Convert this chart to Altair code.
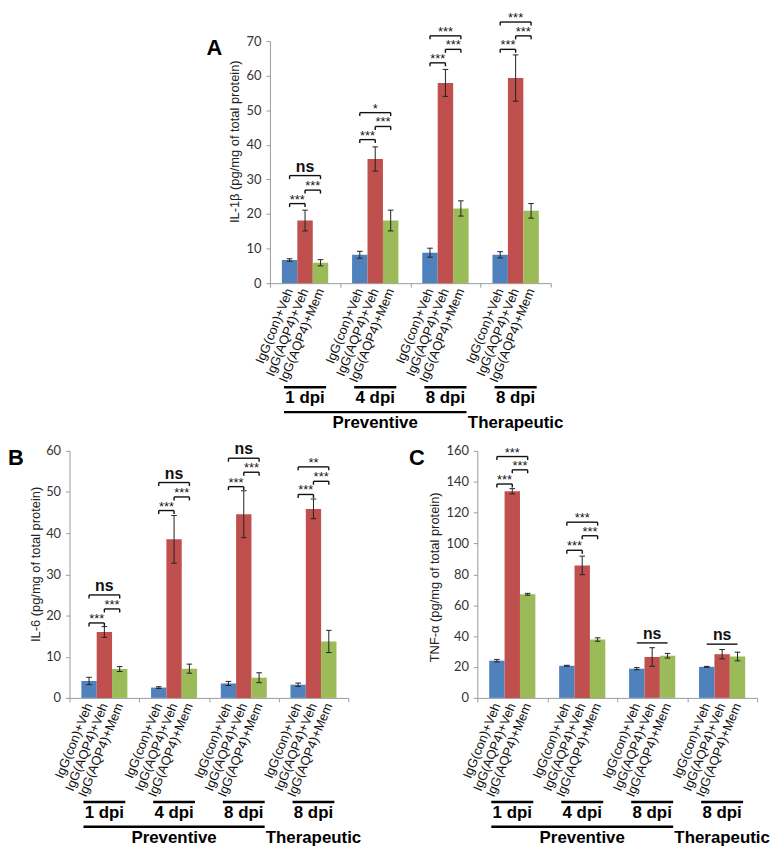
import altair as alt
import pandas as pd

FONT = "Liberation Sans"
AX = "#9a9a9a"

groups = ["1 dpi", "4 dpi", "8 dpi", "8 dpi"]
phases = ["Preventive", "Preventive", "Preventive", "Therapeutic"]
treatments = ["IgG(con)+Veh", "IgG(AQP4)+Veh", "IgG(AQP4)+Mem"]
bar_colors = ["#4F81BD", "#C0504D", "#9BBB59"]

# Panel A: IL-1beta
il1b_con = [6.7, 8.2, 8.8, 8.2]
il1b_aqp4 = [18.1, 35.9, 57.9, 59.3]
il1b_mem = [5.9, 18.1, 21.6, 20.9]
il1b_con_err = [0.35, 1.0, 1.3, 0.9]
il1b_aqp4_err = [3.0, 3.5, 3.9, 6.7]
il1b_mem_err = [0.9, 3.0, 2.2, 2.1]
# (group, from treatment, to treatment, level, label, legs)
il1b_sig = [
    (0, 0, 1, 23.0, "***", True), (0, 1, 2, 26.9, "***", True), (0, 0, 2, 31.1, "ns", True),
    (1, 0, 1, 41.5, "***", True), (1, 1, 2, 45.3, "***", True), (1, 0, 2, 49.3, "*", True),
    (2, 0, 1, 63.7, "***", True), (2, 1, 2, 67.6, "***", True), (2, 0, 2, 71.5, "***", True),
    (3, 0, 1, 67.6, "***", True), (3, 1, 2, 71.5, "***", True), (3, 0, 2, 75.5, "***", True),
]

# Panel B: IL-6
il6_con = [4.1, 2.5, 3.5, 3.2]
il6_aqp4 = [16.0, 38.5, 44.6, 45.9]
il6_mem = [7.0, 7.1, 4.9, 13.7]
il6_con_err = [0.9, 0.2, 0.5, 0.4]
il6_aqp4_err = [1.3, 5.8, 5.7, 2.4]
il6_mem_err = [0.6, 1.1, 1.2, 2.7]
il6_sig = [
    (0, 0, 1, 18.2, "***", True), (0, 1, 2, 21.6, "***", True), (0, 0, 2, 25.0, "ns", True),
    (1, 0, 1, 45.5, "***", True), (1, 1, 2, 48.8, "***", True), (1, 0, 2, 52.3, "ns", True),
    (2, 0, 1, 51.3, "***", True), (2, 1, 2, 54.8, "***", True), (2, 0, 2, 58.2, "ns", True),
    (3, 0, 1, 49.4, "***", True), (3, 1, 2, 52.6, "***", True), (3, 0, 2, 56.1, "**", True),
]

# Panel C: TNF-alpha
tnf_con = [24.1, 20.8, 18.9, 20.1]
tnf_aqp4 = [133.8, 85.8, 26.5, 28.3]
tnf_mem = [67.1, 37.8, 27.3, 26.8]
tnf_con_err = [0.8, 0.3, 0.7, 0.3]
tnf_aqp4_err = [1.7, 6.0, 6.0, 3.0]
tnf_mem_err = [0.6, 1.1, 1.5, 2.8]
tnf_sig = [
    (0, 0, 1, 138.5, "***", True), (0, 1, 2, 147.7, "***", True), (0, 0, 2, 156.3, "***", True),
    (1, 0, 1, 95.6, "***", True), (1, 1, 2, 105.0, "***", True), (1, 0, 2, 113.8, "***", True),
    (2, 0, 2, 35.6, "ns", False), (3, 0, 2, 34.8, "ns", False),
]

BW = 0.22     # bar width in group units
CAP = 0.04    # error-bar cap half width
HALF = 0.3    # half width of the dpi underline


def center(gi, ti):
    return gi + 0.5 + (ti - 1) * BW


def panel(letter, ytitle, means, errs, sig, ymax, ystep, w, h, title_x, title_y, letter_x):
    xs = alt.Scale(domain=[0, 4], nice=False, zero=False)
    ys = alt.Scale(domain=[0, ymax], nice=False, zero=True)
    xaxis = alt.Axis(values=[0, 1, 2, 3, 4], labels=False, title=None, grid=False,
                     tickSize=4, domainColor=AX, tickColor=AX)
    yaxis = alt.Axis(values=list(range(0, ymax + 1, ystep)), title=ytitle, grid=False,
                     tickSize=4, domainColor=AX, tickColor=AX,
                     labelFont="Lato", labelFontSize=13, labelColor="#333333", labelPadding=5,
                     titleFont=FONT, titleFontSize=13, titleFontWeight="normal",
                     titleColor="#222222", titleX=title_x, titleY=title_y, titleAngle=270,
                     titleAlign="center", titleBaseline="middle")

    def X(f):
        return alt.X(f"{f}:Q", scale=xs, axis=xaxis)

    def Y(f):
        return alt.Y(f"{f}:Q", scale=ys, axis=yaxis)

    rows = []
    for ti, t in enumerate(treatments):
        for gi in range(4):
            xc = center(gi, ti)
            m, e = means[ti][gi], errs[ti][gi]
            rows.append(dict(treatment=t, group=groups[gi], xc=xc, x0=xc - BW / 2, x1=xc + BW / 2,
                             base=0.0, mean=m, lo=m - e, hi=m + e, c0=xc - CAP, c1=xc + CAP))
    bar_df = pd.DataFrame(rows)

    leg = 3.5 * ymax / h
    br, legs = [], []
    for gi, a, b, lev, lab, has_legs in sig:
        xa, xb = center(gi, a), center(gi, b)
        br.append(dict(xa=xa, xb=xb, xm=(xa + xb) / 2, level=lev, label=lab))
        if has_legs:
            legs.append(dict(xl=xa, level=lev, lb=lev - leg))
            legs.append(dict(xl=xb, level=lev, lb=lev - leg))
    br_df = pd.DataFrame(br)
    leg_df = pd.DataFrame(legs)

    grp_df = pd.DataFrame([dict(group=g, gc=i + 0.5, g0=i + 0.5 - HALF, g1=i + 0.5 + HALF)
                           for i, g in enumerate(groups)])
    ph = []
    for p in dict.fromkeys(phases):
        idx = [i for i, q in enumerate(phases) if q == p]
        ph.append(dict(phase=p, pc=sum(i + 0.5 for i in idx) / len(idx),
                       p0=min(idx) + 0.5 - HALF, p1=max(idx) + 0.5 + HALF, n=len(idx)))
    ph_df = pd.DataFrame(ph)

    color = alt.Color("treatment:N", scale=alt.Scale(domain=treatments, range=bar_colors), legend=None)

    layers = [
        alt.Chart(bar_df).mark_bar().encode(x=X("x0"), x2=alt.X2("x1"), y=Y("base"), y2=alt.Y2("mean"),
                                            color=color),
        alt.Chart(bar_df).mark_rule(color="#222222", strokeWidth=1).encode(x=X("xc"), y=Y("lo"), y2=alt.Y2("hi")),
        alt.Chart(bar_df).mark_rule(color="#222222", strokeWidth=1).encode(x=X("c0"), x2=alt.X2("c1"), y=Y("lo")),
        alt.Chart(bar_df).mark_rule(color="#222222", strokeWidth=1).encode(x=X("c0"), x2=alt.X2("c1"), y=Y("hi")),
        alt.Chart(br_df).mark_rule(color="#111111", strokeWidth=1.4).encode(x=X("xa"), x2=alt.X2("xb"), y=Y("level")),
        alt.Chart(br_df).transform_filter(alt.datum.label != "ns").mark_text(
            font=FONT, fontSize=13, baseline="alphabetic", dy=0, color="#111111"
        ).encode(x=X("xm"), y=Y("level"), text="label:N"),
        alt.Chart(br_df).transform_filter(alt.datum.label == "ns").mark_text(
            font=FONT, fontSize=16, fontWeight="bold", baseline="alphabetic", dy=-4, color="#111111"
        ).encode(x=X("xm"), y=Y("level"), text="label:N"),
        alt.Chart(bar_df).mark_text(font=FONT, fontSize=13, angle=292, align="right", baseline="middle",
                                    color="#111111").encode(x=X("xc"), y=alt.value(h + 6), text="treatment:N"),
        alt.Chart(grp_df).mark_rule(color="#000000", strokeWidth=2.5).encode(
            x=X("g0"), x2=alt.X2("g1"), y=alt.value(h + 105)),
        alt.Chart(grp_df).mark_text(font=FONT, fontSize=17, fontWeight="bold", baseline="middle",
                                    color="#000000").encode(x=X("gc"), y=alt.value(h + 116), text="group:N"),
        alt.Chart(ph_df).transform_filter(alt.datum.n > 1).mark_rule(color="#000000", strokeWidth=2.5).encode(
            x=X("p0"), x2=alt.X2("p1"), y=alt.value(h + 130)),
        alt.Chart(ph_df).mark_text(font=FONT, fontSize=17, fontWeight="bold", baseline="middle",
                                   color="#000000").encode(x=X("pc"), y=alt.value(h + 141), text="phase:N"),
        alt.Chart(pd.DataFrame({"t": [letter]})).mark_text(font=FONT, fontSize=22, fontWeight="bold",
                                                           baseline="middle", color="#000000").encode(
            x=alt.value(letter_x), y=alt.value(7), text="t:N"),
    ]
    if len(leg_df):
        layers.insert(5, alt.Chart(leg_df).mark_rule(color="#111111", strokeWidth=1.4).encode(
            x=X("xl"), y=Y("level"), y2=alt.Y2("lb")))
    return alt.layer(*layers).properties(width=w, height=h)


A = panel("A", "IL-1β (pg/mg of total protein)",
          [il1b_con, il1b_aqp4, il1b_mem], [il1b_con_err, il1b_aqp4_err, il1b_mem_err],
          il1b_sig, 70, 10, 283, 244, -36, 101, -56)
B = panel("B", "IL-6 (pg/mg of total protein)",
          [il6_con, il6_aqp4, il6_mem], [il6_con_err, il6_aqp4_err, il6_mem_err],
          il6_sig, 60, 10, 281, 249, -34, 114, -54)
C = panel("C", "TNF-α (pg/mg of total protein)",
          [tnf_con, tnf_aqp4, tnf_mem], [tnf_con_err, tnf_aqp4_err, tnf_mem_err],
          tnf_sig, 160, 20, 282, 249, -43, 127, -61)

spacer = alt.Chart(pd.DataFrame({"s": [0]})).mark_point(opacity=0).encode(
    x=alt.value(0), y=alt.value(0)).properties(width=202, height=10)

top = alt.hconcat(spacer, A, spacing=0, bounds="flush")
bottom = alt.hconcat(B, C, spacing=130, bounds="flush")
# with flush bounds the nested row counts as zero height, so the gap includes panel A's height
chart = alt.vconcat(top, bottom, spacing=413, bounds="flush").configure_view(
    stroke=None).properties(padding={"left": 0, "top": 0, "right": 0, "bottom": 0})

chart.save("out.html", embed_options={"renderer": "svg", "actions": False})
